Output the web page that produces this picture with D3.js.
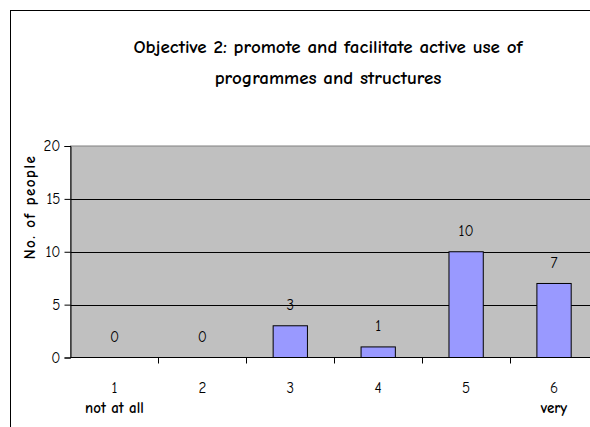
<!DOCTYPE html>
<html>
<head>
<meta charset="utf-8">
<script src="https://cdn.jsdelivr.net/npm/d3@7"></script>
<style>
  html, body { margin: 0; padding: 0; background: #fff; }
  svg { display: block; }
  text { font-family: "Comic Sans MS", "Comic Neue", "Open Sans", sans-serif; fill: #000; }
</style>
</head>
<body>
<svg id="chart" width="590" height="427"></svg>
<script>
// Survey answers: how many people gave each score (1 = not at all, 6 = very)
const categories = ["1", "2", "3", "4", "5", "6"];
const counts = [0, 0, 3, 1, 10, 7];
const subLabels = ["not at all", "", "", "", "", "very"];
const yTicks = [0, 5, 10, 15, 20];
const titleLines = ["Objective 2: promote and facilitate active use of", "programmes and structures"];
const yTitle = "No. of people";

const svg = d3.select("#chart");

// outer chart frame (runs past the right and bottom edges)
svg.append("rect")
  .attr("x", 10.5).attr("y", 10.5)
  .attr("width", 700).attr("height", 500)
  .attr("fill", "#fff").attr("stroke", "#000").attr("stroke-width", 1);

const plot = { left: 70.5, right: 598, top: 146, bottom: 357.5 };

const x = d3.scaleBand().domain(categories).range([plot.left, plot.right]).paddingInner(0).paddingOuter(0);
const y = d3.scaleLinear().domain([0, 20]).range([plot.bottom, plot.top]);

// plot area
svg.append("rect")
  .attr("x", plot.left).attr("y", plot.top)
  .attr("width", plot.right - plot.left).attr("height", plot.bottom - plot.top)
  .attr("fill", "#C0C0C0").attr("stroke", "#808080").attr("stroke-width", 1);

// horizontal gridlines
svg.append("g").selectAll("line")
  .data(yTicks.filter(d => d > 0 && d < 20))
  .join("line")
  .attr("x1", plot.left).attr("x2", plot.right)
  .attr("y1", d => Math.round(y(d)) + 0.5).attr("y2", d => Math.round(y(d)) + 0.5)
  .attr("stroke", "#000").attr("stroke-width", 1);

// bars
const barW = x.bandwidth() * 0.39;
svg.append("g").selectAll("rect")
  .data(categories.map((c, i) => ({ c, v: counts[i] })).filter(d => d.v > 0))
  .join("rect")
  .attr("x", d => x(d.c) + (x.bandwidth() - barW) / 2)
  .attr("y", d => y(d.v))
  .attr("width", barW)
  .attr("height", d => y(0) - y(d.v))
  .attr("fill", "#9999FF").attr("stroke", "#000").attr("stroke-width", 1);

// value labels
svg.append("g").selectAll("text")
  .data(categories.map((c, i) => ({ c, v: counts[i] })))
  .join("text")
  .attr("x", d => x(d.c) + x.bandwidth() / 2)
  .attr("y", d => y(d.v) - 21)
  .attr("dy", "0.35em")
  .attr("text-anchor", "middle")
  .attr("font-size", 15)
  .text(d => d.v);

// y axis
const yAxis = d3.axisLeft(y).tickValues(yTicks).tickSize(6).tickPadding(4);
const gy = svg.append("g").attr("transform", `translate(${plot.left},0)`).call(yAxis);
gy.select(".domain").attr("stroke", "#000");
gy.selectAll(".tick line").attr("stroke", "#000");
gy.selectAll(".tick text").attr("font-size", 15).attr("font-family", null);

// x axis: baseline with tick marks between categories
const gx = svg.append("g");
gx.append("line")
  .attr("x1", plot.left).attr("x2", plot.right)
  .attr("y1", y(0)).attr("y2", y(0))
  .attr("stroke", "#000");
gx.selectAll("line.tk")
  .data(categories.slice(1))
  .join("line").attr("class", "tk")
  .attr("x1", d => Math.round(x(d)) + 0.5).attr("x2", d => Math.round(x(d)) + 0.5)
  .attr("y1", y(0)).attr("y2", y(0) + 6)
  .attr("stroke", "#000");
gx.selectAll("text.cat")
  .data(categories)
  .join("text").attr("class", "cat")
  .attr("x", d => x(d) + x.bandwidth() / 2)
  .attr("y", 388).attr("dy", "0.35em")
  .attr("text-anchor", "middle").attr("font-size", 15)
  .text(d => d);
gx.selectAll("text.sub")
  .data(categories.map((c, i) => ({ c, s: subLabels[i] })).filter(d => d.s))
  .join("text").attr("class", "sub")
  .attr("x", d => x(d.c) + x.bandwidth() / 2)
  .attr("y", 408).attr("dy", "0.35em")
  .attr("text-anchor", "middle").attr("font-size", 15).attr("font-weight", "bold")
  .text(d => d.s);

// y axis title
svg.append("text")
  .attr("transform", "translate(30,207) rotate(-90)")
  .attr("text-anchor", "middle").attr("dy", "0.35em")
  .attr("font-size", 15).attr("font-weight", "bold")
  .attr("letter-spacing", 1.5)
  .text(yTitle);

// chart title
svg.append("g").selectAll("text")
  .data(titleLines)
  .join("text")
  .attr("x", 328)
  .attr("y", (d, i) => 46 + i * 31)
  .attr("dy", "0.35em")
  .attr("text-anchor", "middle")
  .attr("font-size", 19).attr("font-weight", "bold")
  .text(d => d);
</script>
</body>
</html>
